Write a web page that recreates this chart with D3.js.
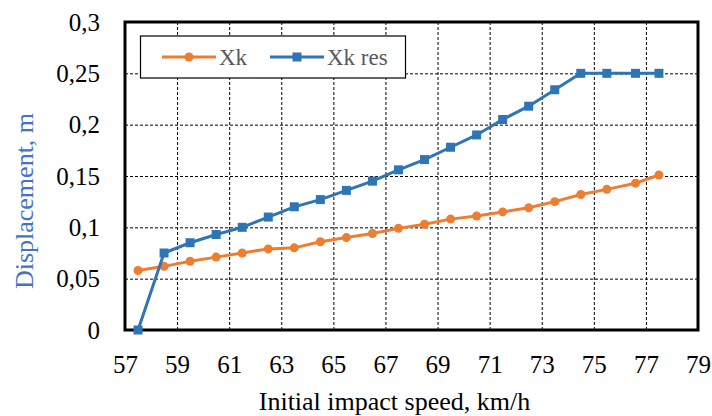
<!DOCTYPE html>
<html>
<head>
<meta charset="utf-8">
<script src="https://cdn.jsdelivr.net/npm/d3@7"></script>
<style>
  body { margin: 0; background: #fff; }
  svg { display: block; font-family: "Liberation Serif", "Times New Roman", serif; }
</style>
</head>
<body>
<svg id="chart" width="712" height="416"></svg>
<script>
// data
var speeds = [57.5, 58.5, 59.5, 60.5, 61.5, 62.5, 63.5, 64.5, 65.5, 66.5, 67.5,
              68.5, 69.5, 70.5, 71.5, 72.5, 73.5, 74.5, 75.5, 76.6, 77.5];
var xk = [0.058, 0.062, 0.067, 0.071, 0.075, 0.079, 0.080, 0.086, 0.090, 0.094, 0.099,
          0.103, 0.108, 0.111, 0.115, 0.119, 0.125, 0.132, 0.137, 0.143, 0.151];
var xkRes = [0, 0.075, 0.085, 0.093, 0.100, 0.110, 0.120, 0.127, 0.136, 0.145, 0.156,
             0.166, 0.178, 0.190, 0.205, 0.218, 0.234, 0.250, 0.250, 0.250, 0.250];
var seriesNames = ["Xk", "Xk res"];
var xTicks = [57, 59, 61, 63, 65, 67, 69, 71, 73, 75, 77, 79];
var yTicks = [0, 0.05, 0.1, 0.15, 0.2, 0.25, 0.3];
var yTickLabels = ["0", "0,05", "0,1", "0,15", "0,2", "0,25", "0,3"];

var svg = d3.select("#chart");
var plotLeft = 125, plotRight = 698, plotTop = 22, plotBottom = 330;
var serif = "'Liberation Serif', 'Times New Roman', serif";

var x = d3.scaleLinear().domain([57, 79]).range([plotLeft, plotRight]);
var y = d3.scaleLinear().domain([0, 0.3]).range([plotBottom, plotTop]);

// grid (dotted)
var grid = svg.append("g").attr("class", "grid");
grid.append("g")
    .attr("transform", "translate(0," + plotBottom + ")")
    .call(d3.axisBottom(x).tickValues(xTicks).tickSize(-(plotBottom - plotTop)).tickFormat(""))
    .call(g => g.select(".domain").remove());
grid.append("g")
    .attr("transform", "translate(" + plotLeft + ",0)")
    .call(d3.axisLeft(y).tickValues(yTicks).tickSize(-(plotRight - plotLeft)).tickFormat(""))
    .call(g => g.select(".domain").remove());
grid.selectAll("line")
    .attr("stroke", "#000")
    .attr("stroke-width", 1)
    .attr("stroke-dasharray", "3,2");

// axes labels
svg.append("g")
    .attr("transform", "translate(0," + plotBottom + ")")
    .call(d3.axisBottom(x).tickValues(xTicks).tickSize(0).tickPadding(25).tickFormat(d3.format("d")))
    .call(g => g.select(".domain").remove())
    .selectAll("text")
    .style("font-size", "25px")
    .style("font-family", serif)
    .attr("fill", "#000");

svg.append("g")
    .attr("transform", "translate(" + plotLeft + ",0)")
    .call(d3.axisLeft(y).tickValues(yTicks).tickSize(0).tickPadding(25)
        .tickFormat((d, i) => yTickLabels[i]))
    .call(g => g.select(".domain").remove())
    .selectAll("text")
    .style("font-size", "25px")
    .style("font-family", serif)
    .attr("fill", "#000");

// plot border
svg.append("rect")
    .attr("x", plotLeft)
    .attr("y", plotTop)
    .attr("width", plotRight - plotLeft)
    .attr("height", plotBottom - plotTop)
    .attr("fill", "none")
    .attr("stroke", "#000")
    .attr("stroke-width", 3);

// axis titles
svg.append("text")
    .attr("x", (plotLeft + plotRight) / 2 - 17)
    .attr("y", 410)
    .attr("text-anchor", "middle")
    .attr("font-size", 26)
    .attr("fill", "#000")
    .text("Initial impact speed, km/h");

svg.append("text")
    .attr("transform", "translate(33,201) rotate(-90)")
    .attr("text-anchor", "middle")
    .attr("font-size", 26)
    .attr("fill", "#4472c4")
    .text("Displacement, m");

// series
var orange = "#ed7d31", blue = "#2e75b6";
var line = d3.line().x((d, i) => x(speeds[i])).y(d => y(d));

svg.append("path")
    .datum(xk)
    .attr("d", line)
    .attr("fill", "none")
    .attr("stroke", orange)
    .attr("stroke-width", 3);
svg.selectAll(".dot")
    .data(xk)
    .enter().append("circle")
    .attr("class", "dot")
    .attr("cx", (d, i) => x(speeds[i]))
    .attr("cy", d => y(d))
    .attr("r", 4.5)
    .attr("fill", orange);

svg.append("path")
    .datum(xkRes)
    .attr("d", line)
    .attr("fill", "none")
    .attr("stroke", blue)
    .attr("stroke-width", 3);
svg.selectAll(".sq")
    .data(xkRes)
    .enter().append("rect")
    .attr("class", "sq")
    .attr("x", (d, i) => x(speeds[i]) - 4.5)
    .attr("y", d => y(d) - 4.5)
    .attr("width", 9)
    .attr("height", 9)
    .attr("fill", blue);

// legend
var legend = svg.append("g");
legend.append("rect")
    .attr("x", 140.5)
    .attr("y", 36)
    .attr("width", 265)
    .attr("height", 42)
    .attr("fill", "#fff")
    .attr("stroke", "#000")
    .attr("stroke-width", 1.2);

var legendItems = [
    {name: seriesNames[0], color: orange, x0: 162, marker: "circle"},
    {name: seriesNames[1], color: blue, x0: 270, marker: "square"}
];
var ly = 57;
legendItems.forEach(function(item)
{
    legend.append("line")
        .attr("x1", item.x0)
        .attr("x2", item.x0 + 54)
        .attr("y1", ly)
        .attr("y2", ly)
        .attr("stroke", item.color)
        .attr("stroke-width", 3);
    if (item.marker == "circle")
    {
        legend.append("circle")
            .attr("cx", item.x0 + 27)
            .attr("cy", ly)
            .attr("r", 4.5)
            .attr("fill", item.color);
    }
    else
    {
        legend.append("rect")
            .attr("x", item.x0 + 27 - 4.5)
            .attr("y", ly - 4.5)
            .attr("width", 9)
            .attr("height", 9)
            .attr("fill", item.color);
    }
    legend.append("text")
        .attr("x", item.x0 + 57)
        .attr("y", ly)
        .attr("dy", "0.35em")
        .attr("font-size", 23)
        .attr("fill", "#595959")
        .text(item.name);
});
</script>
</body>
</html>
